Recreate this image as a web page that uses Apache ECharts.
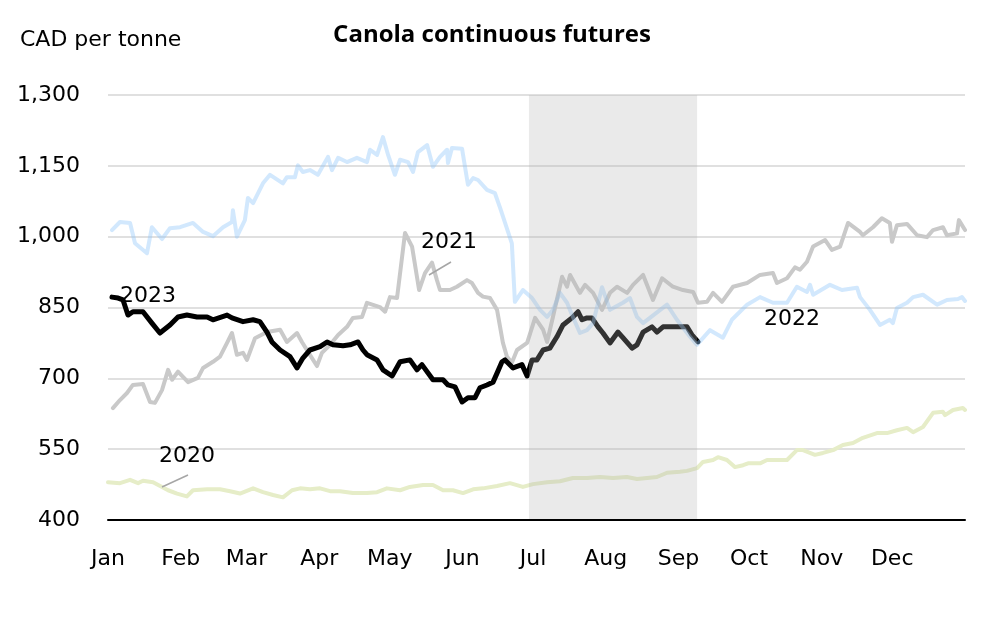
<!DOCTYPE html>
<html>
<head>
<meta charset="utf-8">
<script src="https://cdn.jsdelivr.net/npm/echarts@6/dist/echarts.min.js"></script>
<style>html,body{margin:0;padding:0;background:#fff}#c{width:986px;height:622px}</style>
</head>
<body>
<div id="c"></div>
<script>
// Day of year (0 = Jan 1) and price (CAD per tonne)
const monthStarts = [0, 31, 59, 90, 120, 151, 181, 212, 243, 273, 304, 334];
const monthLabels = ['Jan','Feb','Mar','Apr','May','Jun','Jul','Aug','Sep','Oct','Nov','Dec'];
const yTicks = [400, 550, 700, 850, 1000, 1150, 1300];
const shadeRange = [179.3, 250.9];

const d2020 = [0,5.1,9.4,12.8,14.9,19.2,23,25.6,29.4,33.6,36.2,42.2,47.7,52,56.2,61.8,66,70.3,74.5,78.4,81.8,86,90.3,94.6,98.8,104.3,110.3,114.6,118.8,124.4,128.6,134.2,138.4,142.7,146.9,151.2,155.5,159.7,165.7,171.2,176.7,181,187,192.5,198,204,209.5,215.1,221,225.3,229.6,233.8,238.1,243.6,246.6,250.9,253.4,257.7,259.8,263.6,267,270.5,272.6,277.7,280.7,284.9,289.2,293.4,296,301.1,304.5,308.8,313,317.3,321.5,327.5,331.8,336,340.3,342.9,347.1,351.4,355.6,356.5,359.9,364.1,365];
const p2020 = [480,478,485,478,483,480,470,463,456,450,463,465,465,461,456,467,459,453,448,463,467,465,467,461,461,457,457,459,467,463,470,474,474,463,463,457,465,467,472,478,470,476,480,482,489,489,491,489,491,487,489,491,500,502,504,510,523,527,533,527,512,516,520,520,527,527,527,548,548,538,542,548,559,563,574,584,584,590,595,586,597,627,629,622,633,637,633];

const d2021 = [2.1,5.1,8.1,10.6,14.9,17.9,20,23,25.6,27.3,29.8,34.1,38.3,40.5,44.7,47.7,50.7,52.8,54.9,57.5,59.2,62.6,67.7,73.3,76.2,80.5,82.6,85.2,89,91.1,94.6,98,101.8,104.3,108.2,110.3,115.8,118,120.1,123.1,126.5,129.5,132.5,135,138,140.1,141.4,145.6,148.6,152.9,155,157.6,159.7,162.7,165.7,168.2,169.9,172,174.2,178.5,181.9,185.3,187,189.5,193.4,195.5,196.8,201,203.2,206.6,210.4,213.8,216.8,221.1,223.6,227.9,232.1,236,240.6,244.9,249.2,251.3,255.1,257.7,261.5,266.2,272.2,277.7,283.2,284.9,289.2,292.6,294.7,297.7,300.3,305.4,308.3,311.8,315.2,320.3,321.5,325.8,329.6,333,333.9,336,340.3,344.6,348.8,351.4,355.6,357.3,361.6,362.4,365];
const p2021 = [637,654,669,686,688,650,648,675,718,697,714,692,701,722,735,746,775,796,750,754,739,785,798,803,777,796,777,756,726,754,771,792,809,828,830,860,851,841,872,870,1008,979,887,923,945,908,887,887,894,908,902,881,873,870,845,775,746,733,760,775,828,803,777,830,915,894,919,881,898,881,845,881,894,881,898,919,866,912,894,887,883,860,862,881,862,894,902,919,923,902,912,935,930,947,979,993,972,979,1029,1010,1003,1020,1039,1029,989,1024,1027,1003,999,1014,1020,1003,1007,1035,1014];

const d2022 = [1.7,5.1,9.4,11.5,16.6,18.7,23,26.4,30.7,36.2,40.5,44.7,49,52.8,53.2,54.9,58.3,59.6,61.8,66,69,74.5,76.2,79.6,80.9,83,86,89.4,93.7,95.4,98,101.8,106,110.3,111.6,114.6,117.1,119.3,122.2,124.4,127.8,129.9,132,135.9,138.4,141.4,144.4,144.8,146.5,150.8,153.3,155.5,157.6,161.4,164.8,167,172,173.3,176.7,180.6,184,187,189.5,192.5,195.5,198,201,204,206.6,210.4,213.8,219.3,222.3,225.3,227.9,238.1,242.3,247.9,250.8,256.4,261.9,265.7,272.2,277.7,283.2,289.2,293.4,297.7,299,300.3,307.5,312.6,319,320.3,324.5,328.8,333,334.3,336,340.3,342.9,347.1,353.1,357.3,362,363.7,365];
const p2022 = [1014,1031,1029,986,965,1020,995,1018,1020,1029,1010,1001,1020,1031,1056,1000,1035,1082,1071,1113,1131,1113,1126,1126,1151,1137,1141,1131,1169,1141,1167,1158,1167,1158,1184,1173,1211,1173,1131,1163,1158,1137,1179,1194,1148,1169,1184,1156,1188,1186,1110,1124,1120,1099,1092,1061,986,862,887,870,845,830,845,881,860,830,796,802,817,893,845,860,870,830,817,856,824,788,771,802,786,824,856,872,860,860,894,883,898,877,898,887,892,872,845,813,824,817,849,860,872,877,856,866,868,872,864];

const d2023 = [1.7,4.3,6.4,8.5,10.6,14.9,18.7,22.1,26.4,29.8,33.6,37.9,42.2,44.7,50.7,52.8,57.5,61.8,64.7,67.7,69.8,73.3,77.5,80.5,83,86,90.3,93.3,95.8,100.1,103.1,106.5,108.6,110.3,114.6,117.1,121,124.4,128.6,131.6,133.7,138.4,142.7,144.8,147.8,150.8,153.3,156.3,158.4,161.4,164,165.7,167.8,169.1,172.5,176.3,178.5,180.6,182.7,185.3,188.2,191.2,193.8,197.6,200.2,201.9,204,206.1,208.7,210.8,213.8,217.2,219.3,223.2,225.3,227.9,231.7,233.8,236.4,240.6,243.6,246.6,248.7,251.3];
const p2023 = [872,870,866,834,841,841,817,796,813,830,834,830,830,824,834,828,820,824,820,798,777,760,746,722,743,760,767,777,771,769,771,777,760,750,739,718,705,735,739,718,729,697,697,686,682,650,659,659,680,686,692,711,735,739,722,729,705,739,739,760,764,788,813,828,841,824,828,828,809,796,775,798,786,764,771,798,809,798,809,809,809,809,792,777];

const zip = (d, p) => d.map((x, i) => [x, p[i]]);
const FONT = '"DejaVu Sans", sans-serif';

const chart = echarts.init(document.getElementById('c'), null, {renderer: 'canvas'});
const lineSeries = (name, d, p, color, width, z) => ({
  name, type: 'line', data: zip(d, p), showSymbol: false, symbol: 'none',
  lineStyle: {color, width, join: 'round', cap: 'round'}, z, silent: true
});

chart.setOption({
  animation: false,
  backgroundColor: '#fff',
  title: {
    text: 'Canola continuous futures', left: 487, top: 18, textAlign: 'center',
    textStyle: {fontFamily: '"Open Sans", sans-serif', fontWeight: 'bold', fontSize: 24, color: '#000'}
  },
  grid: {left: 108, right: 21, top: 95, bottom: 102, containLabel: false},
  xAxis: {
    type: 'value', min: 0, max: 365, z: 30,
    axisLine: {show: true, lineStyle: {color: '#000', width: 2}},
    axisTick: {show: false},
    splitLine: {show: false},
    axisLabel: {
      customValues: monthStarts,
      formatter: v => monthLabels[monthStarts.indexOf(v)] || '',
      fontFamily: FONT, fontSize: 22, color: '#000', margin: 28
    }
  },
  yAxis: {
    type: 'value', min: yTicks[0], max: yTicks[yTicks.length - 1], interval: 150,
    axisLine: {show: false}, axisTick: {show: false},
    splitLine: {show: true, lineStyle: {color: '#d6d6d6', width: 1.5}},
    axisLabel: {
      formatter: v => v.toLocaleString('en-US'),
      fontFamily: FONT, fontSize: 22, color: '#000', margin: 28
    }
  },
  series: [
    lineSeries('2020', d2020, p2020, '#e6edc8', 4, 2),
    lineSeries('2021', d2021, p2021, '#c9c9c9', 4, 3),
    lineSeries('2023', d2023, p2023, '#000000', 5, 4),
    lineSeries('2022', d2022, p2022, 'rgba(142,197,250,0.4)', 4, 5),
    {
      name: 'shade', type: 'line', data: [], z: 20, silent: true,
      markArea: {
        silent: true, z: 20,
        itemStyle: {color: 'rgba(181,181,181,0.28)'},
        data: [[{xAxis: shadeRange[0]}, {xAxis: shadeRange[1]}]]
      }
    }
  ],
  graphic: [
    {type: 'text', left: 20, top: 29, style: {text: 'CAD per tonne', font: '22px ' + FONT, fill: '#000'}},
    {type: 'text', x: 120, y: 296, z: 40, style: {text: '2023', font: '22px ' + FONT, fill: '#000', verticalAlign: 'middle'}},
    {type: 'text', x: 421, y: 242, z: 40, style: {text: '2021', font: '22px ' + FONT, fill: '#000', verticalAlign: 'middle'}},
    {type: 'text', x: 764, y: 319, z: 40, style: {text: '2022', font: '22px ' + FONT, fill: '#000', verticalAlign: 'middle'}},
    {type: 'text', x: 159, y: 456, z: 40, style: {text: '2020', font: '22px ' + FONT, fill: '#000', verticalAlign: 'middle'}},
    {type: 'line', z: 40, shape: {x1: 429, y1: 275, x2: 451, y2: 262}, style: {stroke: '#a6a6a6', lineWidth: 1.5}},
    {type: 'line', z: 40, shape: {x1: 162, y1: 487, x2: 188, y2: 475}, style: {stroke: '#a6a6a6', lineWidth: 1.5}}
  ]
});
</script>
</body>
</html>
